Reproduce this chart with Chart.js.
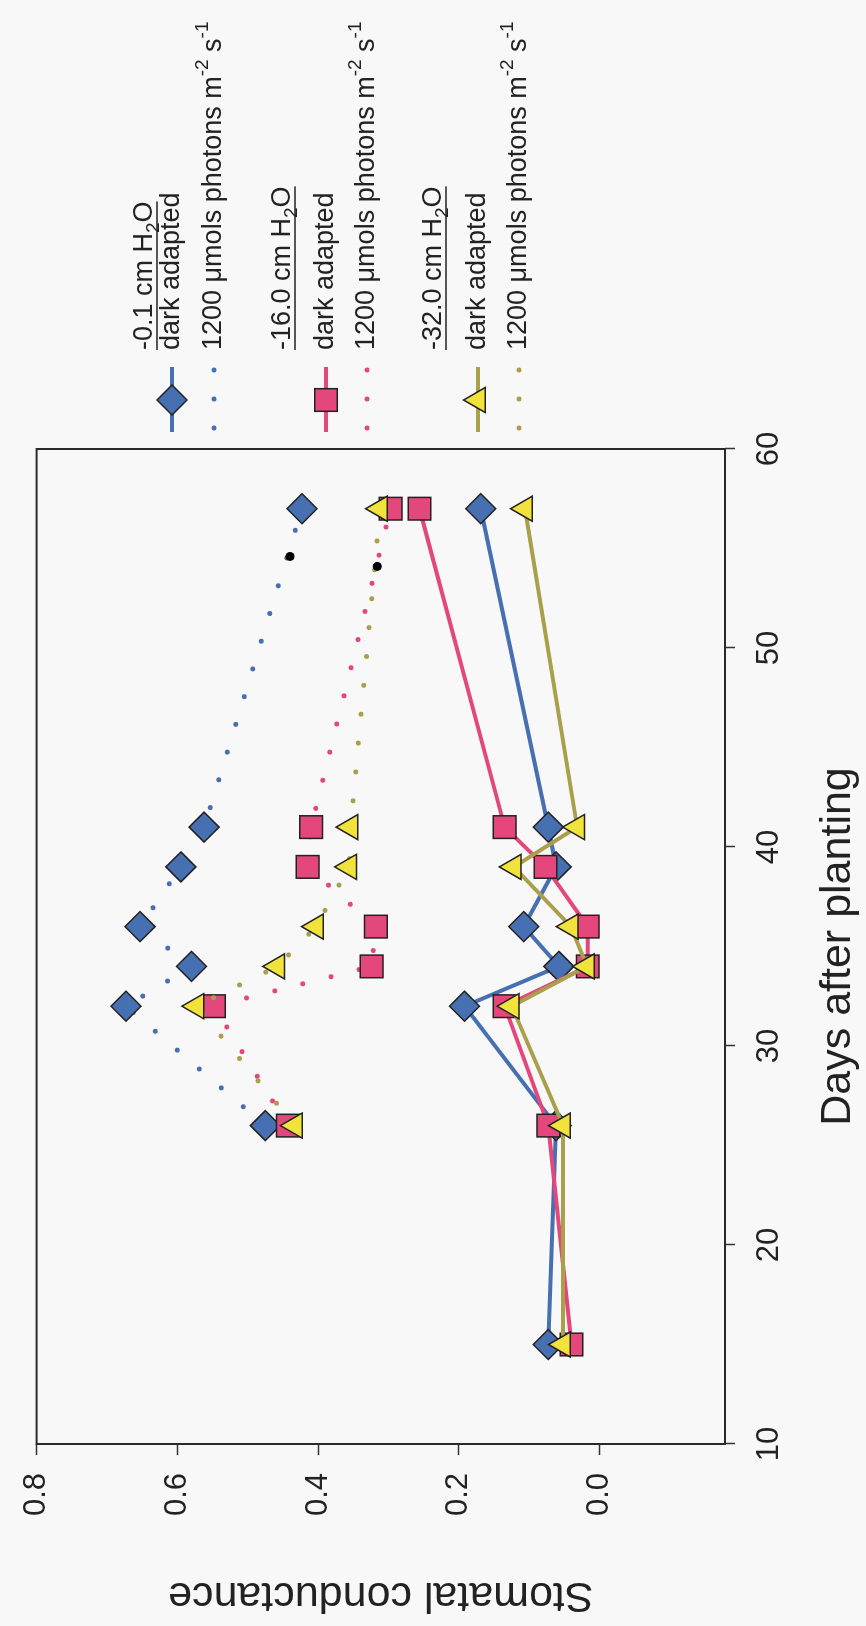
<!DOCTYPE html>
<html>
<head>
<meta charset="utf-8">
<script src="https://cdn.jsdelivr.net/npm/chart.js@4.4.1/dist/chart.umd.min.js"></script>
<style>
  html, body { margin: 0; padding: 0; background: #f8f8f8; }
  body { width: 866px; height: 1626px; overflow: hidden; position: relative; }
  /* chart is drawn upright and then turned a quarter turn to the left */
  #chart { position: absolute; left: 0; top: 0; transform-origin: 0 0;
           transform: translate(0px, 1626px) rotate(-90deg); }
</style>
</head>
<body>
<canvas id="chart" width="1626" height="866"></canvas>
<script>
// days after planting
const darkDays = [15, 26, 32, 34, 36, 39, 41, 57];
const lightDays = [26, 32, 34, 36, 39, 41, 57];

// dark adapted
const darkBlue = [0.073, 0.062, 0.192, 0.058, 0.108, 0.062, 0.073, 0.169];
const darkPink = [0.040, 0.073, 0.135, 0.017, 0.017, 0.077, 0.135, 0.256];
const darkYellow = [0.052, 0.052, 0.125, 0.018, 0.041, 0.122, 0.032, 0.106];

// 1200 umols photons
const lightBlue = [0.475, 0.673, 0.580, 0.653, 0.595, 0.562, 0.423];
const lightPink = [0.443, 0.548, 0.324, 0.318, 0.415, 0.410, 0.297];
const lightYellow = [0.433, 0.573, 0.458, 0.403, 0.356, 0.354, 0.312];

// two stray black dots
const strayDays = [54.6, 54.1];
const strayValues = [0.440, 0.316];

const xTicks = [10, 20, 30, 40, 50, 60];
const yTicks = [0.0, 0.2, 0.4, 0.6, 0.8];

const pressures = ['-0.1', '-16.0', '-32.0'];
const darkLabel = 'dark adapted';
const lightLabel = '1200 \u03bcmols photons m';

const FONT = '"Liberation Sans", Arial, Helvetica, sans-serif';
const INK = '#222222';
const BLUE = '#4770b2';
const PINK = '#e4477b';
const OLIVE = '#aaa04c';
const YELLOW = '#f1e33c';

Chart.defaults.font.family = FONT;
Chart.defaults.color = INK;

const toPoints = (xs, ys) => xs.map((x, i) => ({ x: x, y: ys[i] }));

const markers = [
  { style: 'rectRot', radius: 15, fill: BLUE, line: BLUE, dot: BLUE },
  { style: 'rect', radius: 16, fill: PINK, line: PINK, dot: PINK },
  { style: 'triangle', radius: 14.5, fill: YELLOW, line: OLIVE, dot: OLIVE },
];

function darkSet(values, m, order) {
  return {
    data: toPoints(darkDays, values),
    order: order,
    borderColor: m.line,
    borderWidth: 4,
    pointStyle: m.style,
    pointRadius: m.radius,
    pointBackgroundColor: m.fill,
    pointBorderColor: INK,
    pointBorderWidth: 1.5,
  };
}

function lightSet(values, m, order) {
  return {
    data: toPoints(lightDays, values),
    order: order,
    borderColor: m.dot,
    borderWidth: 5,
    borderDash: [0, 29],
    borderCapStyle: 'round',
    pointStyle: m.style,
    pointRadius: m.radius,
    pointBackgroundColor: m.fill,
    pointBorderColor: INK,
    pointBorderWidth: 1.5,
  };
}

// box round the plot area
const framePlugin = {
  id: 'frame',
  beforeDatasetsDraw(chart) {
    const { ctx, chartArea: a } = chart;
    ctx.save();
    ctx.strokeStyle = '#2a2a2a';
    ctx.lineWidth = 2;
    ctx.strokeRect(a.left, a.top, a.right - a.left, a.bottom - a.top);
    ctx.restore();
  }
};

function drawRuns(ctx, x, y, runs, size) {
  for (const r of runs) {
    const s = (r.sub || r.sup) ? Math.round(size * 0.7) : size;
    const dy = r.sub ? size * 0.32 : (r.sup ? -size * 0.42 : 0);
    ctx.font = s + 'px ' + FONT;
    ctx.fillText(r.t, x, y + dy);
    x += ctx.measureText(r.t).width;
  }
  return x;
}

// legend at the side, drawn by hand
const legendPlugin = {
  id: 'sideLegend',
  afterDraw(chart) {
    const ctx = chart.ctx;
    const titleRows = [145, 283, 434];
    const darkRows = [172, 326, 478];
    const lightRows = [214, 367, 519];
    const textX = 1276;
    const size = 27;
    ctx.save();
    ctx.textBaseline = 'middle';
    ctx.textAlign = 'left';
    ctx.fillStyle = INK;
    markers.forEach((m, i) => {
      // title, underlined
      ctx.fillStyle = INK;
      const end = drawRuns(ctx, textX, titleRows[i],
        [{ t: pressures[i] + ' cm H' }, { t: '2', sub: true }, { t: 'O' }], size);
      ctx.strokeStyle = INK;
      ctx.lineWidth = 1.5;
      ctx.beginPath();
      ctx.moveTo(textX, titleRows[i] + 12);
      ctx.lineTo(end, titleRows[i] + 12);
      ctx.stroke();

      // dark adapted: line with marker
      ctx.setLineDash([]);
      ctx.strokeStyle = m.line;
      ctx.lineWidth = 4;
      ctx.beginPath();
      ctx.moveTo(1194, darkRows[i]);
      ctx.lineTo(1259, darkRows[i]);
      ctx.stroke();
      ctx.fillStyle = m.fill;
      ctx.strokeStyle = INK;
      ctx.lineWidth = 1.5;
      Chart.helpers.drawPoint(ctx, { pointStyle: m.style, radius: m.radius, borderWidth: 1.5, rotation: 0 }, 1226, darkRows[i]);
      ctx.fillStyle = INK;
      drawRuns(ctx, textX, darkRows[i], [{ t: darkLabel }], size);

      // 1200 umols: dotted
      ctx.save();
      ctx.strokeStyle = m.dot;
      ctx.lineWidth = 5;
      ctx.lineCap = 'round';
      ctx.setLineDash([0, 29]);
      ctx.beginPath();
      ctx.moveTo(1198, lightRows[i]);
      ctx.lineTo(1258, lightRows[i]);
      ctx.stroke();
      ctx.restore();
      ctx.fillStyle = INK;
      drawRuns(ctx, textX, lightRows[i],
        [{ t: lightLabel }, { t: '-2', sup: true }, { t: ' s' }, { t: '-1', sup: true }], size);
    });
    ctx.restore();
  }
};

new Chart(document.getElementById('chart'), {
  type: 'line',
  data: {
    datasets: [
      darkSet(darkBlue, markers[0], 6),
      darkSet(darkPink, markers[1], 5),
      darkSet(darkYellow, markers[2], 4),
      lightSet(lightBlue, markers[0], 3),
      lightSet(lightPink, markers[1], 2),
      lightSet(lightYellow, markers[2], 1),
      {
        data: toPoints(strayDays, strayValues),
        order: 0,
        showLine: false,
        pointRadius: 4.5,
        pointBackgroundColor: '#000',
        pointBorderColor: '#000',
        pointBorderWidth: 0,
      },
    ]
  },
  options: {
    responsive: false,
    animation: false,
    devicePixelRatio: 1,
    layout: { padding: { top: 22.5, right: 449, left: 0, bottom: 0 } },
    plugins: { legend: { display: false }, tooltip: { enabled: false } },
    scales: {
      x: {
        type: 'linear',
        min: 10,
        max: 60,
        afterBuildTicks: (s) => { s.ticks = xTicks.map(v => ({ value: v })); },
        ticks: { font: { size: 31 }, color: INK, padding: 16, maxRotation: 0 },
        grid: { drawOnChartArea: false, tickLength: 10, tickColor: '#333', tickWidth: 1.5 },
        border: { display: false },
        title: { display: true, text: 'Days after planting', color: INK,
                 font: { size: 43 }, padding: { top: 0, bottom: 2 } },
        afterFit: (s) => { s.height = 141; },
      },
      y: {
        type: 'linear',
        min: -0.178,
        max: 0.8,
        afterBuildTicks: (s) => { s.ticks = yTicks.map(v => ({ value: v })); },
        ticks: { font: { size: 31 }, color: INK, padding: 18, callback: (v) => v.toFixed(1) },
        grid: { drawOnChartArea: false, tickLength: 11, tickColor: '#333', tickWidth: 1.5 },
        border: { display: false },
        title: { display: true, text: 'Stomatal conductance', color: INK,
                 font: { size: 43 }, padding: { top: 5, bottom: 0 } },
        afterFit: (s) => { s.width = 182; },
      }
    }
  },
  plugins: [framePlugin, legendPlugin]
});
</script>
</body>
</html>
